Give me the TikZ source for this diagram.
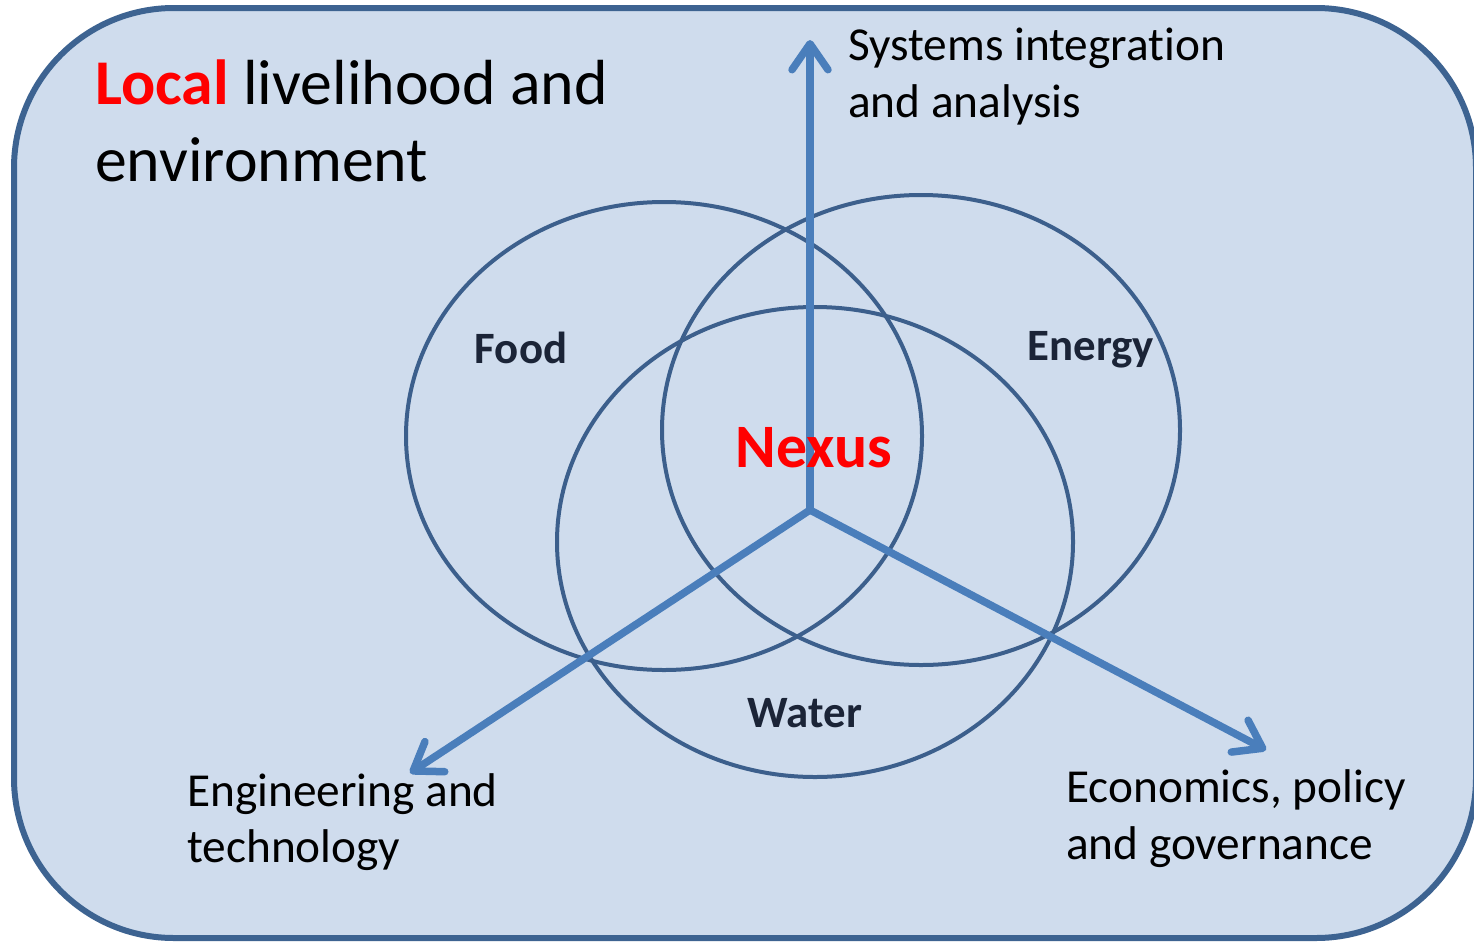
\documentclass[tikz,border=0pt]{standalone}
\usepackage{fontspec}
\setmainfont{Carlito}[Ligatures=NoCommon]
\usetikzlibrary{arrows.meta}
\definecolor{panelfill}{HTML}{CFDCED}
\definecolor{panelline}{HTML}{3D6391}
\definecolor{ringline}{HTML}{3C5F8C}
\definecolor{arrowblue}{HTML}{4A7EBB}
\definecolor{darknavy}{HTML}{1B2437}
\definecolor{hotred}{HTML}{FF0000}
\tikzset{
  panel/.style={draw=panelline, fill=panelfill, line width=6bp, rounded corners=160bp},
  ring/.style={draw=ringline, line width=4bp},
  axisarrow/.style={draw=arrowblue, line width=7.5bp, line cap=round, line join=round,
    -{Straight Barb[length=26bp,width=36bp,round]}},
  biglabel/.style={anchor=base west, inner sep=0pt, font=\fontsize{64}{77}\selectfont},
  sidelabel/.style={anchor=base west, inner sep=0pt, font=\fontsize{47.5}{57}\selectfont},
  setlabel/.style={inner sep=0pt, text=darknavy, font=\bfseries\fontsize{45}{54}\selectfont},
  nexuslabel/.style={inner sep=0pt, text=hotred, font=\bfseries\fontsize{62}{74}\selectfont}
}
\begin{document}
\begin{tikzpicture}[x=1bp,y=-1bp]
\useasboundingbox (0,0) rectangle (1474,943);
\clip (0,0) rectangle (1474,943);
\path[panel] (14,8) rectangle (1476,938);

\draw[ring] (664,436) ellipse [x radius=258, y radius=234];
\draw[ring] (921,430) ellipse [x radius=259, y radius=235];
\draw[ring] (815,542) ellipse [x radius=258, y radius=235];

\coordinate (hub) at (810,510);
\coordinate (tipup) at (810,40);
\coordinate (tipleft) at (410,773);
\coordinate (tipright) at (1266,750);
\draw[axisarrow] (hub) -- (tipup);
\draw[axisarrow] (hub) -- (tipleft);
\draw[axisarrow] (hub) -- (tipright);

\node[biglabel] (local1) at (95,104) {\textcolor{hotred}{\bfseries Local} livelihood and};
\node[biglabel] (local2) at (95,181) {environment};

\node[sidelabel] (sys1) at (848,60) {Systems integration};
\node[sidelabel] (sys2) at (848,117) {and analysis};

\node[sidelabel] (eng1) at (187,806) {Engineering and};
\node[sidelabel] (eng2) at (187,862) {technology};

\node[sidelabel] (eco1) at (1066,802) {Economics, policy};
\node[sidelabel] (eco2) at (1066,859) {and governance};

\node[setlabel] (food) at (521,348) {Food};
\node[setlabel] (energy) at (1091,350) {Energy};
\node[setlabel] (water) at (805,713) {Water};
\node[nexuslabel] (nexus) at (814,448) {Nexus};
\end{tikzpicture}
\end{document}
